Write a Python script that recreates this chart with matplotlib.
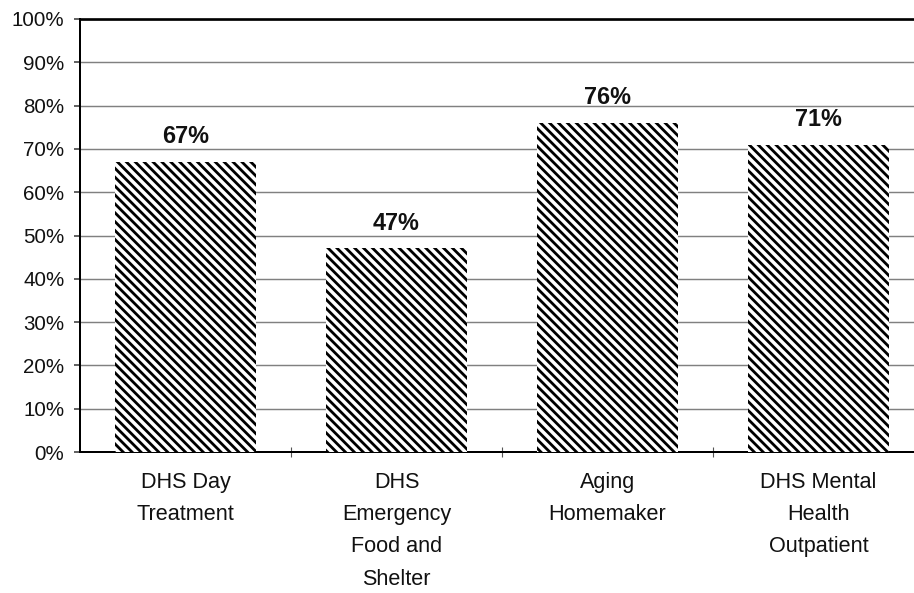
import matplotlib.pyplot as plt
from matplotlib.ticker import FuncFormatter

plt.rcParams["font.family"] = ["Liberation Sans", "DejaVu Sans"]
plt.rcParams["hatch.linewidth"] = 2.5
plt.rcParams["hatch.color"] = "black"

# data
programs = ["DHS Day\nTreatment", "DHS\nEmergency\nFood and\nShelter",
            "Aging\nHomemaker", "DHS Mental\nHealth\nOutpatient"]
pct = [67, 47, 76, 71]
y_ticks = list(range(0, 101, 10))

DPI = 80
fig = plt.figure(figsize=(914 / DPI, 593 / DPI), dpi=DPI)
ax = fig.add_axes([80 / 914, 1 - 452 / 593, 844 / 914, 433 / 593])

x = list(range(len(programs)))
bars = ax.bar(x, pct, width=0.67, color="white", edgecolor="black",
              hatch="\\\\\\", linewidth=0, zorder=3)

for xi, v in zip(x, pct):
    ax.annotate(f"{v}%", (xi, v), xytext=(0, 17), textcoords="offset points",
                ha="center", va="baseline", fontsize=21, fontweight="bold",
                color="#111111")

ax.set_xlim(-0.5, len(programs) - 0.5)
ax.set_ylim(0, 100)
ax.set_yticks(y_ticks)
ax.yaxis.set_major_formatter(FuncFormatter(lambda v, p: f"{v:.0f}%"))
ax.grid(axis="y", color="#808080", linewidth=1.3, zorder=0)

ax.set_xticks(x)
ax.set_xticklabels(programs, fontsize=19.5, linespacing=1.7, color="#111111")
ax.set_xticks([0.5, 1.5, 2.5], minor=True)
ax.tick_params(axis="x", which="major", length=0, pad=18)
ax.tick_params(axis="x", which="minor", length=9, width=1, direction="inout", color="#555555")
ax.tick_params(axis="y", length=5, width=1.5, pad=9, labelsize=18.5,
               labelcolor="#111111", color="#444444")

for side in ["left", "bottom"]:
    ax.spines[side].set_linewidth(1.8)
ax.spines["top"].set_linewidth(2.4)
ax.spines["right"].set_visible(False)

fig.savefig("out.png", dpi=DPI)
